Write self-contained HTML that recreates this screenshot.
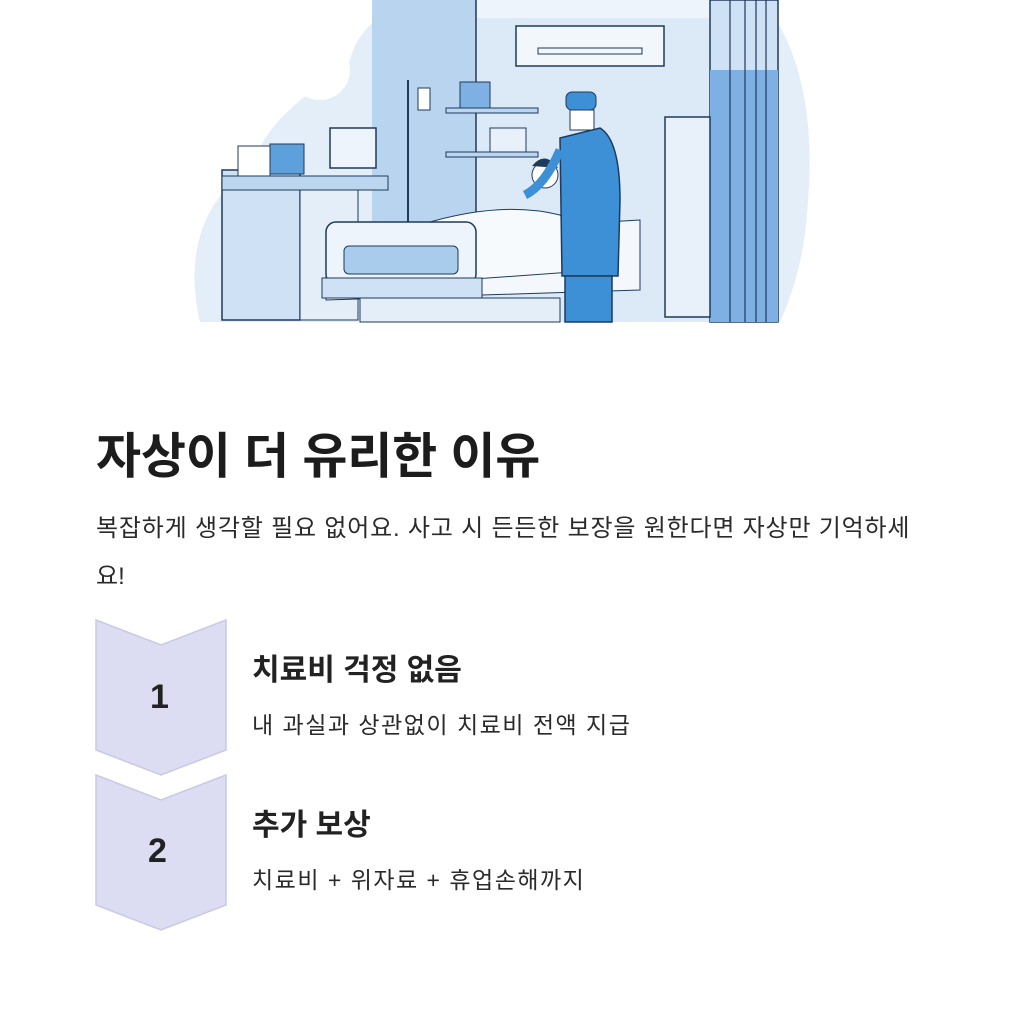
<!DOCTYPE html>
<html><head><meta charset="utf-8"><style>
body{margin:0;width:1016px;height:1024px;background:#fff;font-family:"Liberation Sans","Noto Sans CJK KR",sans-serif;color:#1c1c1c;position:relative;overflow:hidden}
.a{position:absolute;white-space:nowrap}
</style></head><body>
<svg class="a" style="left:0;top:0" width="1016" height="330" viewBox="0 0 1016 330">
<path d="M200 322 C185 260 200 200 250 170 C270 110 320 90 350 60 C360 20 400 0 430 0 L760 0 C800 40 815 120 808 200 C805 260 790 300 780 322 Z" fill="#e4eef9"/>
<circle cx="320" cy="70" r="30" fill="#ffffff"/>
<rect x="372" y="0" width="104" height="322" fill="#b8d4ef"/>
<rect x="476" y="0" width="235" height="322" fill="#dceaf7"/>
<rect x="476" y="0" width="235" height="18" fill="#eef4fb"/>
<line x1="476" y1="0" x2="476" y2="322" stroke="#1e3a5c" stroke-width="1.5"/>
<rect x="516" y="26" width="148" height="40" fill="#f2f7fc" stroke="#1e3a5c" stroke-width="1.5"/>
<rect x="538" y="48" width="104" height="6" fill="none" stroke="#1e3a5c"/>
<rect x="710" y="0" width="68" height="322" fill="#cfe1f4" stroke="#1e3a5c" stroke-width="1.5"/>
<rect x="710" y="70" width="68" height="252" fill="#7fb0e3"/>
<g stroke="#1e3a5c" stroke-width="1.2"><line x1="730" y1="0" x2="730" y2="322"/><line x1="745" y1="0" x2="745" y2="322"/><line x1="756" y1="0" x2="756" y2="322"/><line x1="766" y1="0" x2="766" y2="322"/></g>
<rect x="665" y="117" width="45" height="200" fill="#e8f1fa" stroke="#1e3a5c" stroke-width="1.5"/>
<line x1="408" y1="80" x2="408" y2="222" stroke="#1e3a5c" stroke-width="2"/>
<rect x="418" y="88" width="12" height="22" fill="#fff" stroke="#1e3a5c"/>
<rect x="446" y="108" width="92" height="5" fill="#bcd6ef" stroke="#1e3a5c"/>
<rect x="446" y="152" width="92" height="5" fill="#bcd6ef" stroke="#1e3a5c"/>
<rect x="460" y="82" width="30" height="26" fill="#7fb0e3" stroke="#1e3a5c"/>
<rect x="490" y="128" width="36" height="24" fill="#e8f1fa" stroke="#1e3a5c"/>
<rect x="222" y="170" width="78" height="150" fill="#cfe1f4" stroke="#1e3a5c" stroke-width="1.5"/>
<rect x="222" y="176" width="166" height="14" fill="#bcd6ef" stroke="#1e3a5c"/>
<rect x="300" y="190" width="58" height="130" fill="#e4eef9" stroke="#1e3a5c"/>
<rect x="238" y="146" width="32" height="30" fill="#fff" stroke="#1e3a5c"/>
<rect x="270" y="144" width="34" height="30" fill="#5ea0dc" stroke="#1e3a5c"/>
<rect x="330" y="128" width="46" height="40" fill="#eef4fb" stroke="#1e3a5c" stroke-width="1.5"/>
<path d="M326 238 L640 220 L640 290 L326 300 Z" fill="#f4f8fc" stroke="#1e3a5c"/>
<path d="M420 225 Q500 200 560 215 L600 270 L460 280 Z" fill="#f7fafd" stroke="#1e3a5c"/>
<rect x="326" y="222" width="150" height="62" rx="10" fill="#eef4fb" stroke="#1e3a5c" stroke-width="1.5"/>
<rect x="344" y="246" width="114" height="28" rx="5" fill="#a9cbec" stroke="#1e3a5c"/>
<rect x="322" y="278" width="160" height="20" fill="#cfe1f4" stroke="#1e3a5c"/>
<rect x="360" y="298" width="200" height="24" fill="#e4eef9" stroke="#1e3a5c"/>
<circle cx="545" cy="175" r="13" fill="#fff" stroke="#1e3a5c"/>
<path d="M532 166 Q545 150 558 168" fill="#1e3a5c"/>
<rect x="566" y="92" width="30" height="18" rx="6" fill="#3d8fd6" stroke="#1e3a5c"/>
<path d="M570 110 L594 110 L594 130 L570 130 Z" fill="#fff" stroke="#1e3a5c"/>
<path d="M560 138 L600 128 Q620 140 620 200 L618 276 L562 276 Z" fill="#3d8fd6" stroke="#1e3a5c" stroke-width="1.5"/>
<path d="M565 276 L612 276 L612 322 L565 322 Z" fill="#3d8fd6" stroke="#1e3a5c" stroke-width="1.5"/>
<path d="M560 150 Q545 185 525 195" stroke="#3d8fd6" stroke-width="9" fill="none"/>
</svg>
<div class="a" style="left:96px;top:417px;font-size:49px;font-weight:bold;letter-spacing:-0.2px">자상이 더 유리한 이유</div>
<div class="a" style="left:96px;top:508px;font-size:24px;letter-spacing:0.8px;color:#2a2a2a">복잡하게 생각할 필요 없어요. 사고 시 든든한 보장을 원한다면 자상만 기억하세</div>
<div class="a" style="left:96px;top:556px;font-size:24px;color:#2a2a2a">요!</div>
<svg class="a" style="left:0;top:0" width="300" height="1024">
<polygon points="96,620 161,645 226,620 226,750 161,775 96,750" fill="#dcdcf2" stroke="#c9c9e6" stroke-width="1.5"/>
<polygon points="96,775 161,800 226,775 226,905 161,930 96,905" fill="#dcdcf2" stroke="#c9c9e6" stroke-width="1.5"/>
</svg>
<div class="a" style="left:150px;top:678px;font-size:34px;font-weight:bold;color:#222">1</div>
<div class="a" style="left:148px;top:832px;font-size:34px;font-weight:bold;color:#222">2</div>
<div class="a" style="left:252px;top:645px;font-size:30px;font-weight:bold;color:#222">치료비 걱정 없음</div>
<div class="a" style="left:252px;top:706px;font-size:23px;letter-spacing:1.5px;color:#2a2a2a">내 과실과 상관없이 치료비 전액 지급</div>
<div class="a" style="left:252px;top:800px;font-size:30px;font-weight:bold;color:#222">추가 보상</div>
<div class="a" style="left:252px;top:861px;font-size:23px;letter-spacing:1.5px;color:#2a2a2a">치료비 + 위자료 + 휴업손해까지</div>
</body></html>
